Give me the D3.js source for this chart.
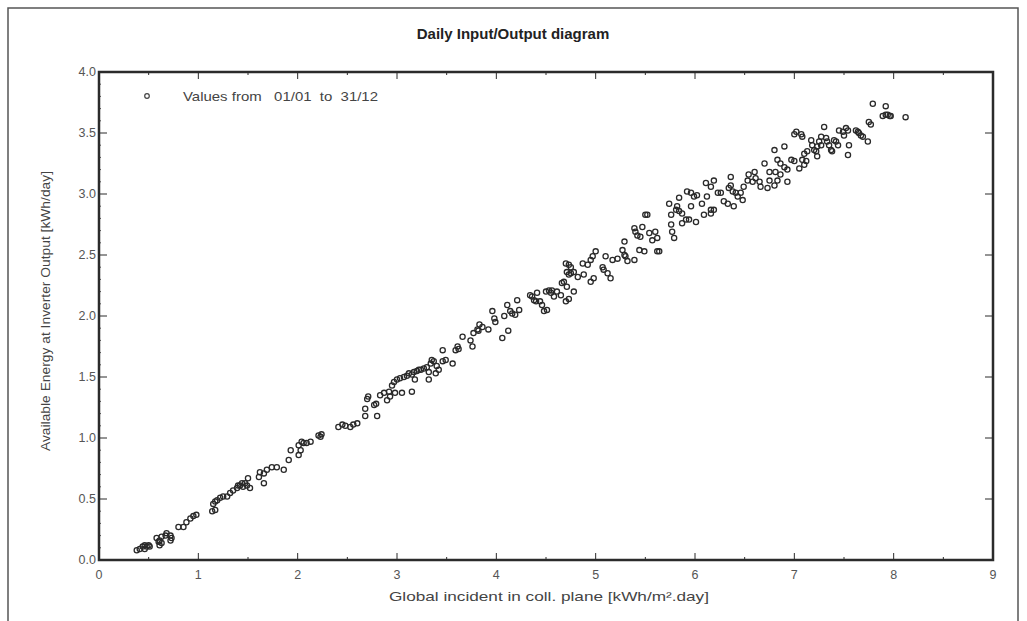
<!DOCTYPE html>
<html><head><meta charset="utf-8">
<script src="https://cdn.jsdelivr.net/npm/d3@7/dist/d3.min.js"></script>
<style>body{margin:0;background:#fff}svg{display:block}text{font-family:"Liberation Sans",Arial,sans-serif}</style>
</head><body><svg id="c" width="1027" height="621"></svg>
<script>
const title = "Daily Input/Output diagram";
const xTitle = "Global incident in coll. plane [kWh/m\u00b2.day]";
const yTitle = "Available Energy at Inverter Output [kWh/day]";
const legendText = "Values from   01/01  to  31/12";
const xTicks = [0,1,2,3,4,5,6,7,8,9];
const yTicks = [0,0.5,1,1.5,2,2.5,3,3.5,4];

// daily points: [global incident, available energy]
const ptsLow = [[0.38,0.08],[0.41,0.09],[0.44,0.11],[0.46,0.12],[0.48,0.11],[0.50,0.12],[0.51,0.11],[0.46,0.09],
[0.58,0.18],[0.60,0.15],[0.61,0.16],[0.63,0.14],[0.63,0.19],[0.61,0.12],
[0.67,0.20],[0.68,0.22],[0.72,0.20],[0.73,0.18],[0.72,0.16],
[0.80,0.27],[0.85,0.27],[0.88,0.31],[0.92,0.34],[0.95,0.36],[0.98,0.37],
[1.14,0.40],[1.17,0.41],[1.15,0.46],[1.17,0.48],[1.19,0.49],[1.22,0.51],[1.25,0.52],[1.29,0.52],[1.32,0.55],[1.35,0.57],[1.39,0.59],[1.42,0.61],[1.45,0.60],[1.47,0.63],[1.49,0.61],[1.52,0.59],[1.50,0.67],[1.40,0.61],[1.44,0.63],
[1.61,0.68],[1.62,0.72],[1.66,0.71],[1.69,0.74],[1.66,0.63],[1.74,0.76],[1.79,0.76],[1.86,0.74],
[1.91,0.82],[1.93,0.90],[2.01,0.86],[2.03,0.90],[2.01,0.94],[2.04,0.97],[2.06,0.96],[2.09,0.96],[2.13,0.97],
[2.21,1.02],[2.23,1.01],[2.24,1.03]];
const ptsMid = [[2.41,1.09],[2.45,1.11],[2.48,1.10],[2.53,1.09],[2.56,1.11],[2.60,1.12],
[2.68,1.18],[2.80,1.18],[2.68,1.24],[2.70,1.32],[2.71,1.34],[2.77,1.27],[2.79,1.28],[2.83,1.35],[2.87,1.37],[2.92,1.38],[2.90,1.31],[2.93,1.34],[2.98,1.37],[3.05,1.37],[3.15,1.38],
[2.95,1.43],[2.97,1.46],[3.00,1.48],[3.03,1.49],[3.07,1.50],[3.10,1.51],[3.12,1.53],[3.15,1.52],[3.17,1.54],[3.18,1.48],[3.20,1.55],[3.22,1.56],[3.24,1.56],[3.27,1.57],[3.30,1.58],[3.32,1.54],[3.34,1.61],[3.35,1.64],[3.37,1.63],[3.40,1.59],[3.42,1.56],[3.39,1.53],[3.32,1.48],[3.46,1.63],[3.49,1.64],[3.56,1.61],
[3.46,1.72],[3.59,1.72],[3.61,1.75],[3.62,1.73],[3.66,1.83],[3.74,1.80],[3.76,1.75],[3.77,1.86],[3.81,1.89],[3.83,1.93],[3.86,1.91],[3.82,1.88],[3.92,1.89],[3.96,2.04],[3.98,1.98],[3.99,1.95],[4.06,1.82],[4.08,2.00],[4.11,2.09],[4.12,1.88],[4.14,2.04],[4.16,2.02],[4.19,2.01],[4.21,2.13],[4.23,2.05]];
const ptsUpper = [[4.34,2.17],[4.36,2.16],[4.38,2.13],[4.40,2.12],[4.41,2.19],[4.44,2.12],[4.46,2.09],[4.48,2.04],[4.51,2.05],[4.50,2.20],[4.53,2.21],[4.55,2.19],[4.56,2.21],[4.58,2.16],[4.61,2.20],[4.65,2.17],[4.66,2.27],[4.68,2.28],[4.71,2.24],[4.73,2.14],[4.70,2.12],[4.78,2.20],
[4.70,2.43],[4.73,2.42],[4.75,2.40],[4.71,2.36],[4.73,2.34],[4.75,2.35],[4.78,2.36],[4.82,2.32],[4.87,2.43],[4.88,2.34],[4.92,2.42],[4.95,2.46],[4.97,2.49],[4.98,2.31],[4.95,2.28],[5.00,2.53],[5.07,2.40],[5.08,2.38],[5.12,2.35],[5.15,2.31],[5.10,2.49],[5.17,2.46],[5.22,2.47],[5.29,2.50],[5.32,2.45],[5.39,2.46],
[5.29,2.61],[5.30,2.49],[5.27,2.54],[5.39,2.72],[5.40,2.69],[5.42,2.66],[5.45,2.65],[5.44,2.54],[5.49,2.53],[5.47,2.73],[5.54,2.68],[5.57,2.62],[5.62,2.64],[5.62,2.53],[5.60,2.69],[5.52,2.83],[5.50,2.83],[5.64,2.53]];
const ptsHigh = [[5.74,2.92],[5.76,2.83],[5.76,2.75],[5.77,2.69],[5.79,2.64],[5.81,2.87],[5.84,2.86],[5.82,2.90],[5.87,2.84],[5.91,2.79],[5.87,2.76],[5.94,2.79],[5.96,2.90],[5.92,3.02],[5.96,3.01],[5.99,2.98],[6.02,2.99],[6.01,2.77],[6.07,2.92],[6.09,2.83],[6.11,3.09],[6.12,2.98],[6.16,2.87],[6.16,2.84],[6.19,2.87],[6.19,3.11],[6.23,3.01],[6.26,3.01],[5.84,2.97],[6.16,3.06],[6.34,3.05],
[6.29,2.94],[6.33,2.92],[6.36,3.07],[6.36,3.14],[6.38,3.02],[6.41,3.01],[6.43,2.98],[6.46,3.01],[6.48,2.95],[6.39,2.90],[6.49,3.06],[6.53,3.11],[6.54,3.16],[6.58,3.10],[6.60,3.18],[6.61,3.13],[6.65,3.10],[6.66,3.06],[6.73,3.05],[6.75,3.11],[6.75,3.18],[6.70,3.25],
[6.80,3.36],[6.90,3.39],[6.83,3.28],[6.86,3.25],[6.90,3.22],[6.93,3.20],[6.81,3.18],[6.86,3.16],[6.97,3.28],[7.00,3.27],[6.93,3.10],[6.80,3.07],[6.83,3.11],[7.05,3.21],[7.10,3.24],[7.12,3.27],[7.08,3.28],[7.10,3.33],[7.13,3.35],
[7.02,3.51],[7.00,3.49],[7.07,3.49],[7.08,3.47],[7.17,3.44],[7.18,3.40],[7.20,3.36],[7.22,3.35],[7.23,3.31],[7.23,3.39],[7.25,3.43],[7.27,3.47],[7.27,3.40],[7.30,3.55],[7.32,3.46],[7.33,3.43],[7.35,3.40],[7.37,3.36],[7.38,3.35],[7.40,3.44],[7.42,3.43],[7.44,3.40],
[7.45,3.52],[7.49,3.51],[7.52,3.54],[7.54,3.52],[7.50,3.48],[7.55,3.40],[7.54,3.32],[7.62,3.52],[7.64,3.51],[7.65,3.50],[7.67,3.48],[7.69,3.47],[7.74,3.43],[7.75,3.59],[7.77,3.57],
[7.79,3.74],[7.92,3.72],[7.89,3.64],[7.92,3.65],[7.94,3.65],[7.96,3.64],[7.97,3.64],[8.12,3.63]];
const points = ptsLow.concat(ptsMid, ptsUpper, ptsHigh);

const svg = d3.select("#c");
const L = 99, R = 993, T = 72, B = 560;
const x = d3.scaleLinear().domain([0,9]).range([L,R]);
const y = d3.scaleLinear().domain([0,4]).range([B,T]);
const ink = "#2b2b2b", grey = "#555";

// outer frame
svg.append("path").attr("d","M8,621 V8 H1018 V621").attr("fill","none").attr("stroke","#555").attr("stroke-width",1.5);

svg.append("text").attr("x",513).attr("y",39).attr("text-anchor","middle")
  .attr("font-size",15).attr("font-weight","bold").attr("fill","#222").text(title);

// ticks (inside the frame)
const xMinor = d3.range(0.5,9,1);
const yMinor = d3.range(0.1,4,0.1).filter(v=>Math.abs(v*2-Math.round(v*2))>1e-6);
const tk = svg.append("g").attr("stroke",ink).attr("stroke-width",1);
xTicks.slice(1,-1).forEach(v=>{
  tk.append("line").attr("x1",x(v)).attr("x2",x(v)).attr("y1",B).attr("y2",B-7);
  tk.append("line").attr("x1",x(v)).attr("x2",x(v)).attr("y1",T).attr("y2",T+7);
});
xMinor.forEach(v=>{
  tk.append("line").attr("x1",x(v)).attr("x2",x(v)).attr("y1",B).attr("y2",B-3);
  tk.append("line").attr("x1",x(v)).attr("x2",x(v)).attr("y1",T).attr("y2",T+3);
});
yTicks.slice(1,-1).forEach(v=>{
  tk.append("line").attr("x1",L).attr("x2",L+8).attr("y1",y(v)).attr("y2",y(v));
  tk.append("line").attr("x1",R).attr("x2",R-8).attr("y1",y(v)).attr("y2",y(v));
});
yMinor.forEach(v=>{
  tk.append("line").attr("x1",L).attr("x2",L+2).attr("y1",y(v)).attr("y2",y(v)).attr("stroke-width",0.8);
});

// tick labels
svg.append("g").selectAll("text").data(xTicks).join("text")
  .attr("x",d=>x(d)).attr("y",B+19).attr("text-anchor","middle").attr("font-size",12.5).attr("fill",grey).text(d=>d);
svg.append("g").selectAll("text").data(yTicks).join("text")
  .attr("x",L-3).attr("y",d=>y(d)+4).attr("text-anchor","end").attr("font-size",12.5).attr("fill",grey).text(d=>d.toFixed(1));

svg.append("text").attr("x",549).attr("y",601).attr("text-anchor","middle").attr("font-size",13.5)
  .attr("textLength",320).attr("lengthAdjust","spacingAndGlyphs").attr("fill","#444").text(xTitle);
svg.append("text").attr("transform","translate(50,311) rotate(-90)").attr("text-anchor","middle")
  .attr("font-size",12.5).attr("textLength",280).attr("lengthAdjust","spacingAndGlyphs").attr("fill","#444").text(yTitle);

// points
svg.append("g").selectAll("circle").data(points).join("circle")
  .attr("cx",d=>x(d[0])).attr("cy",d=>y(d[1])).attr("r",2.6)
  .attr("fill","none").attr("stroke","#2a2a2a").attr("stroke-width",1.3);

// legend
svg.append("circle").attr("cx",147).attr("cy",96).attr("r",2.3).attr("fill","none").attr("stroke","#444").attr("stroke-width",1.2);
svg.append("text").attr("x",183).attr("y",101).attr("font-size",13).attr("fill","#444")
  .attr("textLength",195).attr("lengthAdjust","spacingAndGlyphs")
  .style("white-space","pre").text(legendText);

// plot frame
svg.append("rect").attr("x",L).attr("y",T).attr("width",R-L).attr("height",B-T)
  .attr("fill","none").attr("stroke",ink).attr("stroke-width",2.5);
</script></body></html>
